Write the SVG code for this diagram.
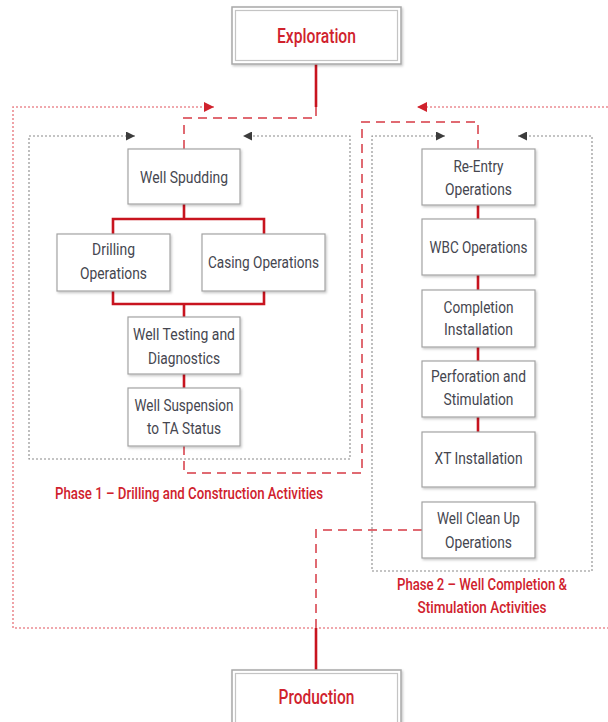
<svg xmlns="http://www.w3.org/2000/svg" width="608" height="722" viewBox="0 0 608 722">
<style>
.box{fill:#fff;stroke:#a3a3a3;stroke-width:1.2}
.outer{fill:#fff;stroke:#a8a8a8;stroke-width:1.5}
.inner{fill:none;stroke:#c4c4c4;stroke-width:1.2}
.t{font-family:"Liberation Sans Narrow","Roboto","Liberation Sans",sans-serif;font-size:17px;fill:#45464f;text-anchor:middle}
.r{font-family:"Liberation Sans Narrow","Roboto","Liberation Sans",sans-serif;font-weight:500;fill:#d0222d;text-anchor:middle}
.solid{fill:none;stroke:#c8141f;stroke-width:2.6}
.dash{fill:none;stroke:#e06a72;stroke-width:2;stroke-dasharray:9 6}
.rdot{fill:none;stroke:#ec8c92;stroke-width:1.6;stroke-dasharray:2 2}
.gdot{fill:none;stroke:#8a8a8a;stroke-width:1.1;stroke-dasharray:2 2}
</style>
<defs>
<filter id="sh" x="-10%" y="-10%" width="125%" height="130%">
<feDropShadow dx="1.2" dy="1.5" stdDeviation="1" flood-color="#000" flood-opacity="0.22"/>
</filter>
<marker id="ra" viewBox="0 0 10 10" refX="10" refY="5" markerWidth="10" markerHeight="10" markerUnits="userSpaceOnUse" orient="auto-start-reverse">
<path d="M0,0 L10,5 L0,10 z" fill="#d0222d"/>
</marker>
<marker id="ga" viewBox="0 0 10 10" refX="10" refY="5" markerWidth="9" markerHeight="9" markerUnits="userSpaceOnUse" orient="auto-start-reverse">
<path d="M0,0 L10,5 L0,10 z" fill="#3c3c3c"/>
</marker>
</defs>

<g id="connectors">
<path class="rdot" d="M214,107 L13,107 L13,628 L608,628" marker-start="url(#ra)"/>
<path class="rdot" d="M608,107 L417,107" marker-end="url(#ra)"/>
<path class="gdot" d="M135,136 L29,136 L29,459 L350,459 L350,136 L243,136" marker-start="url(#ga)" marker-end="url(#ga)"/>
<path class="gdot" d="M445,136 L372,136 L372,571 L592,571 L592,136 L518,136" marker-start="url(#ga)" marker-end="url(#ga)"/>
<path class="dash" d="M316,107 L316,118 L184,118 L184,149"/>
<path class="dash" d="M478,149 L478,122 L362,122 L362,473 L184,473 L184,446"/>
<path class="dash" d="M422,530 L316,530 L316,628"/>
<path class="solid" d="M316,64 L316,107"/>
<path class="solid" d="M316,628 L316,670"/>
<path class="solid" d="M184,204 L184,219 M113,234 L113,219 L264,219 L264,234"/>
<path class="solid" d="M113,291 L113,304 L264,304 L264,291 M184,304 L184,317"/>
<path class="solid" d="M184,374 L184,388"/>
<path class="solid" d="M478,205 L478,219 M478,275 L478,290 M478,347 L478,361 M478,417 L478,432"/>
</g>

<g id="exploration">
<rect class="outer" x="232" y="7" width="169" height="57" filter="url(#sh)"/>
<rect class="inner" x="235.5" y="10.5" width="162" height="50"/>
<text class="r" x="316.5" y="43" font-size="21" textLength="79" lengthAdjust="spacingAndGlyphs">Exploration</text>
</g>

<g id="well-spudding">
<rect class="box" x="128" y="149" width="112" height="55" filter="url(#sh)"/>
<text class="t" x="184" y="183" textLength="88" lengthAdjust="spacingAndGlyphs">Well Spudding</text>
</g>

<g id="drilling-operations">
<rect class="box" x="57" y="234" width="113" height="57" filter="url(#sh)"/>
<text class="t" x="113.5" y="255" textLength="43" lengthAdjust="spacingAndGlyphs">Drilling</text>
<text class="t" x="113.5" y="279" textLength="67" lengthAdjust="spacingAndGlyphs">Operations</text>
</g>

<g id="casing-operations">
<rect class="box" x="202" y="234" width="123" height="57" filter="url(#sh)"/>
<text class="t" x="263.5" y="268" textLength="111" lengthAdjust="spacingAndGlyphs">Casing Operations</text>
</g>

<g id="well-testing">
<rect class="box" x="128" y="317" width="112" height="57" filter="url(#sh)"/>
<text class="t" x="184" y="340" textLength="102" lengthAdjust="spacingAndGlyphs">Well Testing and</text>
<text class="t" x="184" y="364" textLength="72" lengthAdjust="spacingAndGlyphs">Diagnostics</text>
</g>

<g id="well-suspension">
<rect class="box" x="128" y="388" width="112" height="58" filter="url(#sh)"/>
<text class="t" x="184" y="411" textLength="99" lengthAdjust="spacingAndGlyphs">Well Suspension</text>
<text class="t" x="184" y="434" textLength="74" lengthAdjust="spacingAndGlyphs">to TA Status</text>
</g>

<g id="phase1-label">
<text class="r" x="189" y="499" font-size="17" textLength="268" lengthAdjust="spacingAndGlyphs">Phase 1 – Drilling and Construction Activities</text>
</g>

<g id="re-entry">
<rect class="box" x="422" y="149" width="113" height="56" filter="url(#sh)"/>
<text class="t" x="478.5" y="172" textLength="50" lengthAdjust="spacingAndGlyphs">Re-Entry</text>
<text class="t" x="478.5" y="195" textLength="67" lengthAdjust="spacingAndGlyphs">Operations</text>
</g>

<g id="wbc-operations">
<rect class="box" x="422" y="219" width="113" height="56" filter="url(#sh)"/>
<text class="t" x="478.5" y="253" textLength="98" lengthAdjust="spacingAndGlyphs">WBC Operations</text>
</g>

<g id="completion-installation">
<rect class="box" x="422" y="290" width="113" height="57" filter="url(#sh)"/>
<text class="t" x="478.5" y="313" textLength="70" lengthAdjust="spacingAndGlyphs">Completion</text>
<text class="t" x="478.5" y="335" textLength="69" lengthAdjust="spacingAndGlyphs">Installation</text>
</g>

<g id="perforation">
<rect class="box" x="422" y="361" width="113" height="56" filter="url(#sh)"/>
<text class="t" x="478.5" y="382" textLength="95" lengthAdjust="spacingAndGlyphs">Perforation and</text>
<text class="t" x="478.5" y="405" textLength="70" lengthAdjust="spacingAndGlyphs">Stimulation</text>
</g>

<g id="xt-installation">
<rect class="box" x="422" y="432" width="113" height="55" filter="url(#sh)"/>
<text class="t" x="478.5" y="464" textLength="88" lengthAdjust="spacingAndGlyphs">XT Installation</text>
</g>

<g id="well-clean-up">
<rect class="box" x="422" y="502" width="113" height="56" filter="url(#sh)"/>
<text class="t" x="478.5" y="524" textLength="83" lengthAdjust="spacingAndGlyphs">Well Clean Up</text>
<text class="t" x="478.5" y="548" textLength="67" lengthAdjust="spacingAndGlyphs">Operations</text>
</g>

<g id="phase2-label">
<text class="r" x="482" y="590" font-size="16" textLength="170" lengthAdjust="spacingAndGlyphs">Phase 2 – Well Completion &amp;</text>
<text class="r" x="482" y="613" font-size="16" textLength="129" lengthAdjust="spacingAndGlyphs">Stimulation Activities</text>
</g>

<g id="production">
<rect class="outer" x="232" y="670" width="169" height="57" filter="url(#sh)"/>
<rect class="inner" x="235.5" y="673.5" width="162" height="50"/>
<text class="r" x="316.5" y="704" font-size="21" textLength="76" lengthAdjust="spacingAndGlyphs">Production</text>
</g>
</svg>
